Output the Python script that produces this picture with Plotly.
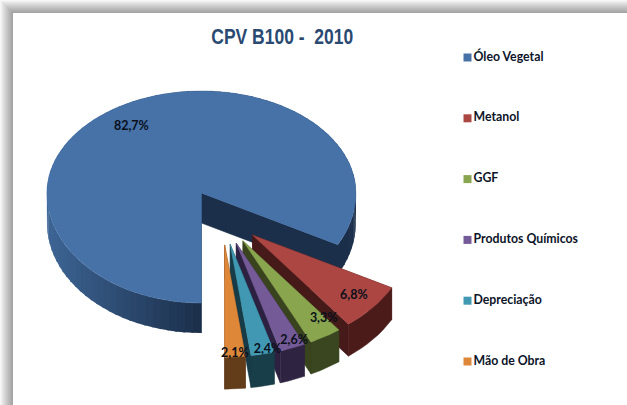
import math
import plotly.graph_objects as go

# Data
title = "CPV B100 -  2010"
categories = ["Óleo Vegetal", "Metanol", "GGF", "Produtos Químicos", "Depreciação", "Mão de Obra"]
shares = [82.7, 6.8, 3.3, 2.6, 2.4, 2.1]
labels = ["82,7%", "6,8%", "3,3%", "2,6%", "2,4%", "2,1%"]

# Styles
top_colors = ["#4672A8", "#AB4643", "#89A54E", "#745A96", "#4098B3", "#DE8739"]
wall_light = [(61, 101, 149), (74, 27, 24), (58, 70, 32), (46, 35, 64), (24, 62, 73), (99, 61, 26)]
wall_dark = [(27, 47, 74), (74, 27, 24), (58, 70, 32), (46, 35, 64), (24, 62, 73), (99, 61, 26)]
face_colors = ["#1B2F4A", "#461A18", "#39431E", "#2C2140", "#173C47", "#60391A"]
label_fx = [0.88, 0.86, 1.0, 1.05, 1.17, 1.0]
label_fy = [0.76, 0.85, 0.83, 0.95, 0.98, 0.99]

W, H = 627, 405
CX, CY = 222, 217      # centre of the un-exploded pie, in pixels
RX, RY_BACK, RY_FRONT = 154.5, 102, 110
EX, EY = 40, 28        # explosion offset
DEPTH_MAIN, DEPTH_SLICE = 30, 32
SLICE_SCALE = 1.02     # nearer slices look slightly larger


def rim(theta, ox, oy, r=1.0, drop=0, ry_r=None):
    """theta: degrees clockwise from the bottom of the pie, seen from above."""
    t = math.radians(theta)
    c = math.cos(t)
    ry = RY_FRONT if c > 0 else RY_BACK
    return ox - RX * r * math.sin(t), oy + ry * (r if ry_r is None else ry_r) * c + drop


def rgb(c):
    return "rgb(%d,%d,%d)" % tuple(round(v) for v in c)


def poly(pts, color, width=0.5):
    xs, ys = zip(*pts)
    return go.Scatter(x=list(xs) + [xs[0]], y=list(ys) + [ys[0]], mode="lines", fill="toself",
                      fillcolor=color, line=dict(color=color, width=width),
                      hoverinfo="skip", showlegend=False)


fig = go.Figure()
total = sum(shares)
start = 0.0
label_xy = []
for i, share in enumerate(shares):
    sweep = share / total * 360
    end = start + sweep
    mid = (start + end) / 2
    m = math.radians(mid)
    ox = CX - EX * math.sin(m)
    oy = CY + EY * math.cos(m)
    r = 1.0 if i == 0 else SLICE_SCALE
    depth = DEPTH_MAIN if i == 0 else DEPTH_SLICE
    n = max(3, int(sweep / 3))
    thetas = [start + sweep * k / n for k in range(n + 1)]
    fig.add_trace(poly([(ox, oy), rim(end, ox, oy, r), rim(end, ox, oy, r, depth), (ox, oy + depth)], face_colors[i]))
    fig.add_trace(poly([(ox, oy), rim(start, ox, oy, r), rim(start, ox, oy, r, depth), (ox, oy + depth)], face_colors[i]))
    if wall_light[i] == wall_dark[i]:
        fig.add_trace(poly([rim(t, ox, oy, r) for t in thetas] + [rim(t, ox, oy, r, depth) for t in reversed(thetas)],
                           rgb(wall_dark[i])))
    else:
        # Outer wall: shaded strip by strip, lighter towards the left of the pie
        for a, b in zip(thetas[:-1], thetas[1:]):
            x_mid = rim((a + b) / 2, ox, oy, r)[0]
            f = min(1.0, max(0.0, (ox - x_mid) / RX))
            col = [d + (l - d) * f for l, d in zip(wall_light[i], wall_dark[i])]
            fig.add_trace(poly([rim(a, ox, oy, r), rim(b + 0.8, ox, oy, r),
                                rim(b + 0.8, ox, oy, r, depth), rim(a, ox, oy, r, depth)], rgb(col), width=0))
    fig.add_trace(poly([(ox, oy)] + [rim(t, ox, oy, r) for t in thetas], top_colors[i]))
    label_xy.append(rim(mid, ox, oy, label_fx[i], 0, label_fy[i]))
    start = end

fig.add_trace(go.Scatter(x=[p[0] for p in label_xy], y=[p[1] for p in label_xy], text=labels, mode="text",
                         textposition="middle center", hoverinfo="skip", showlegend=False,
                         textfont=dict(family="Lato", size=12.5, color="#0A0F1A", weight="bold")))

# Legend column
LEG_X, LEG_Y, LEG_STEP = 467.5, 57.5, 60.8
leg_y = [LEG_Y + LEG_STEP * k for k in range(len(categories))]
fig.add_trace(go.Scatter(x=[LEG_X] * len(categories), y=leg_y, text=categories, mode="markers+text",
                         textposition="middle right", hoverinfo="skip", showlegend=False,
                         marker=dict(symbol="square", size=8, color=top_colors, line_width=0),
                         textfont=dict(family="Lato", size=12.3, color="#0C1428", weight="bold")))

# Frame with a soft shadow on the top and left
shapes = []
for k in range(13, 0, -1):
    shapes.append(dict(type="rect", xref="x", yref="y", x0=13 - k, y0=13 - k, x1=W + 40, y1=H + 40,
                       fillcolor="rgba(0,0,0,0.033)", line_width=0, layer="below"))
shapes.append(dict(type="rect", xref="x", yref="y", x0=13, y0=13, x1=W + 40, y1=H + 40,
                   fillcolor="white", line_width=0, layer="below"))

fig.update_layout(
    width=W, height=H, margin=dict(l=0, r=0, t=0, b=0), showlegend=False,
    paper_bgcolor="white", plot_bgcolor="white", shapes=shapes,
    xaxis=dict(range=[0, W], visible=False, fixedrange=True),
    yaxis=dict(range=[H, 0], visible=False, fixedrange=True),
    annotations=[dict(text=title, x=282, y=36, xref="x", yref="y", showarrow=False,
                      font=dict(family="Liberation Sans", size=22, color="#2A4A72", weight="bold"))],
)
post = """
document.body.style.margin='0';document.body.style.overflow='hidden';
function narrowTitle(){
  var t=document.querySelector('.annotation-text');
  if(t){t.setAttribute('textLength','142');t.setAttribute('lengthAdjust','spacingAndGlyphs');}
}
narrowTitle();setTimeout(narrowTitle,50);setTimeout(narrowTitle,300);
"""
fig.write_html("out.html", config={"displayModeBar": False}, post_script=post)
